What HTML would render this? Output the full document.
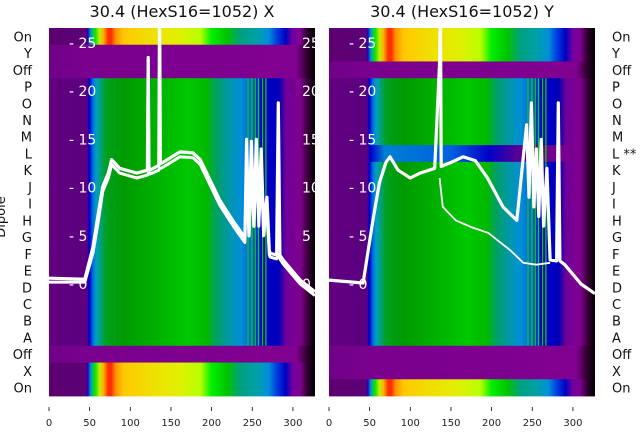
<!DOCTYPE html>
<html><head><meta charset="utf-8">
<style>
body{margin:0;background:#fff;}
svg{display:block;font-family:"DejaVu Sans","Liberation Sans",sans-serif;}
</style></head>
<body>
<svg id="chart" width="640" height="440" viewBox="0 0 640 440" xmlns="http://www.w3.org/2000/svg">
<defs>
<linearGradient id="gBright" gradientUnits="userSpaceOnUse" x1="0" y1="0" x2="266" y2="0">
<stop offset="0" stop-color="#5c0070"/><stop offset="0.140" stop-color="#5c0078"/><stop offset="0.146" stop-color="#2000c0"/>
<stop offset="0.155" stop-color="#0080e0"/><stop offset="0.163" stop-color="#00c060"/><stop offset="0.175" stop-color="#20e000"/>
<stop offset="0.190" stop-color="#c0f000"/><stop offset="0.205" stop-color="#ffb000"/><stop offset="0.222" stop-color="#ff3000"/>
<stop offset="0.235" stop-color="#ff3000"/><stop offset="0.250" stop-color="#ff9000"/><stop offset="0.28" stop-color="#ffc800"/>
<stop offset="0.37" stop-color="#f2dc00"/><stop offset="0.49" stop-color="#e0f000"/><stop offset="0.57" stop-color="#b8ff00"/>
<stop offset="0.61" stop-color="#00f000"/><stop offset="0.67" stop-color="#00c400"/><stop offset="0.72" stop-color="#00a080"/>
<stop offset="0.78" stop-color="#00a0a8"/><stop offset="0.825" stop-color="#0090d8"/><stop offset="0.855" stop-color="#0040e0"/>
<stop offset="0.89" stop-color="#0000c0"/><stop offset="0.915" stop-color="#7000a0"/><stop offset="0.945" stop-color="#800090"/>
<stop offset="0.97" stop-color="#300030"/><stop offset="1" stop-color="#000"/>
</linearGradient>
<linearGradient id="gGreen" gradientUnits="userSpaceOnUse" x1="0" y1="0" x2="266" y2="0">
<stop offset="0" stop-color="#620080"/><stop offset="0.143" stop-color="#5a0080"/><stop offset="0.152" stop-color="#0000d0"/>
<stop offset="0.165" stop-color="#0070e0"/><stop offset="0.178" stop-color="#00a0c0"/><stop offset="0.193" stop-color="#00a080"/>
<stop offset="0.214" stop-color="#00a020"/><stop offset="0.28" stop-color="#009a00"/><stop offset="0.40" stop-color="#00b000"/>
<stop offset="0.52" stop-color="#00c800"/><stop offset="0.595" stop-color="#00b800"/><stop offset="0.627" stop-color="#00a060"/>
<stop offset="0.673" stop-color="#0098a0"/><stop offset="0.72" stop-color="#0090d8"/><stop offset="0.765" stop-color="#0060e0"/>
<stop offset="0.80" stop-color="#0000d0"/><stop offset="0.865" stop-color="#0000b8"/><stop offset="0.89" stop-color="#700098"/>
<stop offset="0.945" stop-color="#800090"/><stop offset="0.97" stop-color="#400040"/><stop offset="1" stop-color="#000"/>
</linearGradient>
<linearGradient id="gPurple" gradientUnits="userSpaceOnUse" x1="0" y1="0" x2="266" y2="0">
<stop offset="0" stop-color="#700088"/><stop offset="0.14" stop-color="#7a008e"/><stop offset="0.86" stop-color="#800090"/>
<stop offset="0.93" stop-color="#800090"/><stop offset="0.97" stop-color="#300030"/><stop offset="1" stop-color="#000"/>
</linearGradient>
<linearGradient id="gBlue" gradientUnits="userSpaceOnUse" x1="0" y1="0" x2="266" y2="0">
<stop offset="0" stop-color="#620080"/><stop offset="0.143" stop-color="#5a0080"/><stop offset="0.155" stop-color="#0000d0"/>
<stop offset="0.21" stop-color="#0080d0"/><stop offset="0.46" stop-color="#0060e0"/><stop offset="0.60" stop-color="#0000c8"/>
<stop offset="0.72" stop-color="#600090"/><stop offset="0.945" stop-color="#800090"/><stop offset="0.97" stop-color="#400040"/><stop offset="1" stop-color="#000"/>
</linearGradient>
<clipPath id="clipPanel"><rect x="0" y="28" width="266" height="368"/></clipPath>
</defs>
<g id="root"></g>
</svg>
<script>
// ---- data ----
const rowLabelsLeft = ["On","Y","Off","P","O","N","M","L","K","J","I","H","G","F","E","D","C","B","A","Off","X","On"];
const rowLabelsRight = ["On","Y","Off","P","O","N","M","L **","K","J","I","H","G","F","E","D","C","B","A","Off","X","On"];
const rowTypesLeft = ["bright","purple","purple","green","green","green","green","green","green","green","green","green","green","green","green","green","green","green","green","purple","bright","bright"];
const rowTypesRight = ["bright","bright","purple","green","green","green","green","blue","green","green","green","green","green","green","green","green","green","green","green","purple","purple","bright"];
const xTicks = [0,50,100,150,200,250,300];
const yTicks = [0,5,10,15,20,25];
const stripeU = [244,249,253,257,262,266];
const traceLeftU = [0,44,54,60,66,73,77,87,108,121,122,123,124,135,136,137,140,161,177,186,210,226,241,243,246,249,252,255,258,261,264,268,271,272,280,282,284,288,309,327];
const traceLeftV = [0.6,0.5,3.8,7.0,10.1,11.5,12.9,12.0,11.5,11.8,23.5,12,11.8,12.3,30,12.5,12.6,13.7,13.6,12.9,8.7,6.6,4.8,15,5,14.8,6,15,7,14,6,9,3.5,3.2,3.0,18.8,3.0,2.5,0.4,-0.8];
const traceLeft2V = [0.2,0.2,3.2,6.2,9.6,11.0,12.4,11.5,11.0,11.3,11.5,11.5,11.4,11.8,12.0,12.0,12.1,13.2,13.1,12.4,8.2,6.1,4.3,13,5,12,6,13,6,12,5,8,3.0,2.8,2.6,3,2.6,2.1,0.0,-1.2];
const traceRightU = [0,42,54,62,70,75,85,100,112,130,136,137,138,150,165,180,195,214,231,243,246,249,252,255,258,261,264,268,272,280,282,284,290,310,327];
const traceRightV = [0.4,0.1,6.6,10.5,12.6,13.2,11.8,11.0,11.5,12.0,23,30,12.2,12.6,13.2,12.8,11.0,8.0,6.6,16.5,9,18.8,8,14,7,15,6,12,2.5,2.4,18.8,2.4,2.0,0.0,-1.0];
const traceRightLowU = [136,140,156,175,196,223,239,255,272];
const traceRightLowV = [11.0,8.0,6.6,5.9,5.3,3.5,2.2,2.0,2.2];
// ---- layout ----
const NS = "http://www.w3.org/2000/svg";
const root = document.getElementById('root');
const panelTop = 28, rowH = 368/22, pxPerU = 0.813;
const y0 = 284, pxPerV = 9.64;
const xs = u => u*pxPerU;
const ys = v => y0 - v*pxPerV;
function mk(tag, attrs, parent){const e=document.createElementNS(NS,tag);for(const k in attrs)e.setAttribute(k,attrs[k]);(parent||root).appendChild(e);return e;}
function path(us, vs){return us.map((u,i)=>(i?'L':'M')+xs(u).toFixed(1)+','+ys(vs[i]).toFixed(1)).join(' ');}

function panel(x0, types, title, traces, lowTrace){
  const g = mk('g',{transform:`translate(${x0},0)`});
  
  
  const fills = {bright:'url(#gBright)',green:'url(#gGreen)',purple:'url(#gPurple)',blue:'url(#gBlue)'};
  types.forEach((t,i)=>{
    const r = mk('rect',{x:0,y:(panelTop+i*rowH).toFixed(2),width:266,height:(rowH+0.4).toFixed(2),fill:fills[t]},g);
    
    
  });
  const gs = types.indexOf('green'), ge = types.lastIndexOf('green');
  stripeU.forEach((u,i)=>{
    const s = mk('rect',{x:xs(u).toFixed(1),y:(panelTop+gs*rowH).toFixed(1),width:1.2,height:((ge-gs+1)*rowH).toFixed(1),fill:i%2?'#00e000':'#20c000'},g);
    
    
  });
  const lines = mk('g',{'clip-path':'url(#clipPanel)'},g);
  traces.forEach(tr=>{
    const p = mk('path',{d:path(tr[0],tr[1]),fill:'none',stroke:'#fff','stroke-width':tr[2],'stroke-linejoin':'round'},lines);
    
    
  });
  if(lowTrace){
    const p = mk('path',{d:path(lowTrace[0],lowTrace[1]),fill:'none',stroke:'#fff','stroke-width':1.8},lines);
    
    
  }
  yTicks.forEach(v=>{
    const t = mk('text',{x:20,y:(ys(v)+5).toFixed(1),fill:'#fff','font-size':14},g);
    t.textContent = '- '+v;
    
    
  });
  xTicks.forEach(v=>{
    mk('line',{x1:xs(v),x2:xs(v),y1:407,y2:411,stroke:'#000','stroke-width':0.8},g);
    const t = mk('text',{x:xs(v),y:426,'text-anchor':'middle','font-size':10,fill:'#222'},g);
    t.textContent = v;
    
    
  });
  const tt = mk('text',{x:133,y:17,'text-anchor':'middle','font-size':16,fill:'#111'},g);
  tt.textContent = title;
  
  
}
panel(49, rowTypesLeft, '30.4 (HexS16=1052) X', [[traceLeftU,traceLeft2V,3],[traceLeftU,traceLeftV,3.2]], null);
yTicks.forEach(v=>{
  const t = mk('text',{x:302,y:(ys(v)+5).toFixed(1),fill:'#fff','font-size':14});
  t.textContent = v;
  
  
});
mk('rect',{x:315,y:20,width:14,height:380,fill:'#fff'});
panel(329, rowTypesRight, '30.4 (HexS16=1052) Y', [[traceRightU,traceRightV,3.2]], [traceRightLowU,traceRightLowV]);
mk('rect',{x:595,y:20,width:45,height:380,fill:'#fff'});
rowLabelsLeft.forEach((s,i)=>{
  const t = mk('text',{x:32,y:(panelTop+(i+0.5)*rowH+5).toFixed(1),'text-anchor':'end','font-size':13,fill:'#111'});
  t.textContent = s;
  
  
});
rowLabelsRight.forEach((s,i)=>{
  const t = mk('text',{x:612,y:(panelTop+(i+0.5)*rowH+5).toFixed(1),'font-size':13,fill:'#111'});
  t.textContent = s;
  
  
});
const yl = mk('text',{x:0,y:0,transform:'translate(5,217) rotate(-90)','text-anchor':'middle','font-size':13,fill:'#111'});
yl.textContent = 'Dipole';


</script>
</body></html>
